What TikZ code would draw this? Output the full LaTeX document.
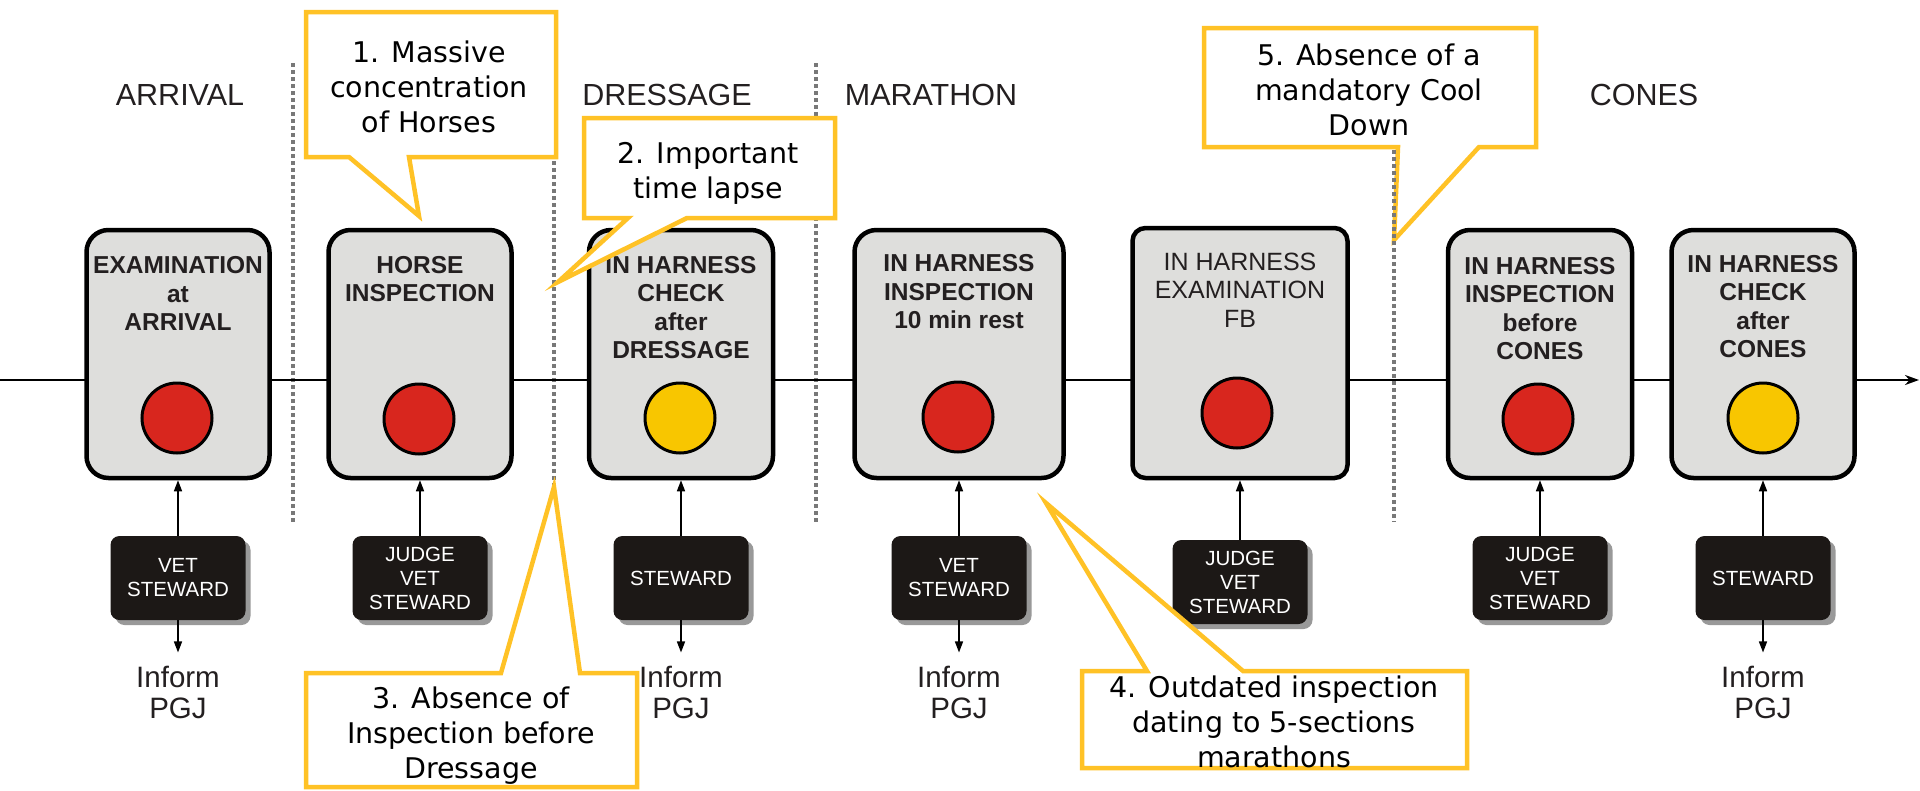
\documentclass[tikz,border=0pt]{standalone}
\usepackage{fontspec}
\setmainfont{Liberation Sans}
\newfontfamily\callfont{DejaVu Sans}
\usetikzlibrary{arrows.meta,shadows}
\definecolor{callY}{RGB}{255,194,38}
\definecolor{boxgray}{RGB}{222,222,220}
\definecolor{redc}{RGB}{216,38,30}
\definecolor{yelc}{RGB}{248,198,0}
\definecolor{rolebk}{RGB}{28,24,22}
\definecolor{sepgray}{RGB}{120,120,120}
\definecolor{inkc}{RGB}{35,31,32}
\begin{document}
\begin{tikzpicture}[x=1pt,y=-1pt,
  stage/.style={draw=black, line width=4.5pt, fill=boxgray, rounded corners=22pt, minimum height=248pt, inner sep=0pt},
  stagetxt/.style={font=\bfseries\fontsize{24.5}{28.5}\selectfont, align=center, inner sep=0pt, text=inkc},
  stagereg/.style={font=\fontsize{25}{28.5}\selectfont, align=center, inner sep=0pt, text=inkc},
  lamp/.style={circle, draw=black, line width=3pt, minimum size=70pt, inner sep=0pt},
  role/.style={fill=rolebk, rounded corners=9pt, minimum width=135pt, minimum height=84pt, text=white, font=\fontsize{20.5}{24}\selectfont, align=center, inner sep=0pt, drop shadow={shadow xshift=5pt, shadow yshift=-5pt, fill=black!40, opacity=1}},
  zone/.style={font=\fontsize{30.5}{36}\selectfont, inner sep=0pt, text=inkc},
  inform/.style={font=\fontsize{29.5}{31}\selectfont, align=center, inner sep=0pt, text=inkc},
  callout/.style={draw=callY, line width=4.5pt, fill=white, line join=miter},
  calltxt/.style={font=\callfont\fontsize{28.5}{35}\selectfont, align=center, inner sep=0pt, text=black},
  sep/.style={draw=sepgray, line width=3.5pt, dash pattern=on 4pt off 3pt},
  uparrow/.style={draw=black, line width=1.5pt, -{Triangle[length=11pt,width=8pt]}},
  mainline/.style={draw=black, line width=2.5pt, -{Stealth[length=14pt,width=10pt]}}
]
\path[use as bounding box, fill=white] (0,0) rectangle (1920,790);

% separators
\coordinate (s1t) at (293,63);  \coordinate (s1b) at (293,522);
\coordinate (s2t) at (554,63);  \coordinate (s2b) at (554,487);
\coordinate (s3t) at (816,63);  \coordinate (s3b) at (816,522);
\coordinate (s4t) at (1394,150); \coordinate (s4b) at (1394,522);
\draw[sep] (s1t) -- (s1b);
\draw[sep] (s2t) -- (s2b);
\draw[sep] (s3t) -- (s3b);

% main timeline
\coordinate (Lstart) at (0,380);
\coordinate (Lend) at (1919,380);
\draw[mainline] (Lstart) -- (Lend);

% zone labels
\node[zone] (z1) at (180,95) {ARRIVAL};
\node[zone] (z2) at (667,95) {DRESSAGE};
\node[zone] (z3) at (931,95) {MARATHON};
\node[zone] (z4) at (1644,95) {CONES};

% stage boxes
\node[stage, minimum width=183pt] (b1) at (178,354) {};
\node[stage, minimum width=183pt] (b2) at (420,354) {};
\node[stage, minimum width=184pt] (b3) at (681,354) {};
\node[stage, minimum width=209pt] (b4) at (959,354) {};
\node[stage, minimum width=215pt, minimum height=250pt, rounded corners=13pt] (b5) at (1240,353) {};
\node[stage, minimum width=184pt] (b6) at (1540,354) {};
\node[stage, minimum width=183pt] (b7) at (1763,354) {};

\node[stagetxt] (t1) at (178,293.5) {EXAMINATION\\at\\ARRIVAL};
\node[stagetxt] (t2) at (420,279) {HORSE\\INSPECTION};
\node[stagetxt] (t3) at (681,307.5) {IN HARNESS\\CHECK\\after\\DRESSAGE};
\node[stagetxt] (t4) at (959,292) {IN HARNESS\\INSPECTION\\10 min rest};
\node[stagereg] (t5) at (1240,290) {IN HARNESS\\EXAMINATION\\FB};
\node[stagetxt] (t6) at (1540,308.5) {IN HARNESS\\INSPECTION\\before\\CONES};
\node[stagetxt] (t7) at (1763,306.5) {IN HARNESS\\CHECK\\after\\CONES};

% lamps
\node[lamp, fill=redc] (l1) at (177,418) {};
\node[lamp, fill=redc] (l2) at (419,419) {};
\node[lamp, fill=yelc] (l3) at (680,418) {};
\node[lamp, fill=redc] (l4) at (958,417) {};
\node[lamp, fill=redc] (l5) at (1237,413) {};
\node[lamp, fill=redc] (l6) at (1538,419) {};
\node[lamp, fill=yelc] (l7) at (1763,418) {};

% role boxes
\node[role] (r1) at (178,578) {VET\\STEWARD};
\node[role] (r2) at (420,578) {JUDGE\\VET\\STEWARD};
\node[role] (r3) at (681,578) {STEWARD};
\node[role] (r4) at (959,578) {VET\\STEWARD};
\node[role] (r5) at (1240,582) {JUDGE\\VET\\STEWARD};
\node[role] (r6) at (1540,578) {JUDGE\\VET\\STEWARD};
\node[role] (r7) at (1763,578) {STEWARD};

\foreach \i in {1,...,7} {\draw[uparrow] (r\i.north) -- (b\i.south);}

% inform
\node[inform] (i1) at (178,692) {Inform\\PGJ};
\node[inform] (i3) at (681,692) {Inform\\PGJ};
\node[inform] (i4) at (959,692) {Inform\\PGJ};
\node[inform] (i7) at (1763,692) {Inform\\PGJ};
\foreach \i in {1,3,4,7} {\draw[uparrow, shorten >=13pt] (r\i.south) -- (i\i.north);}

% callouts
\draw[callout] (306,12) -- (556,12) -- (556,157) -- (409,157) -- (419,216) -- (349,157) -- (306,157) -- cycle;
\node[calltxt] (c1) at (429,87) {1. Massive\\concentration\\of Horses};

\draw[callout] (584,118) -- (835,118) -- (835,218) -- (687,218) -- (558,282) -- (628,218) -- (584,218) -- cycle;
\node[calltxt] (c2) at (708,173) {2. Important\\time lapse};

\draw[callout] (306,673) -- (501,673) -- (554,487) -- (580,673) -- (637,673) -- (637,787) -- (306,787) -- cycle;
\node[calltxt] (c3) at (471,736) {3. Absence of\\Inspection before\\Dressage};

\draw[callout] (1082,671) -- (1147,671) -- (1046,503) -- (1243,671) -- (1467,671) -- (1467,768) -- (1082,768) -- cycle;
\node[calltxt] (c4) at (1274,722) {4. Outdated inspection\\dating to 5-sections\\marathons};

\draw[callout] (1204,28) -- (1536,28) -- (1536,147) -- (1479,147) -- (1394,240) -- (1398,147) -- (1204,147) -- cycle;
\node[calltxt] (c5) at (1369,90) {5. Absence of a\\mandatory Cool\\Down};

\draw[sep] (s4t) -- (s4b);
\end{tikzpicture}
\end{document}
